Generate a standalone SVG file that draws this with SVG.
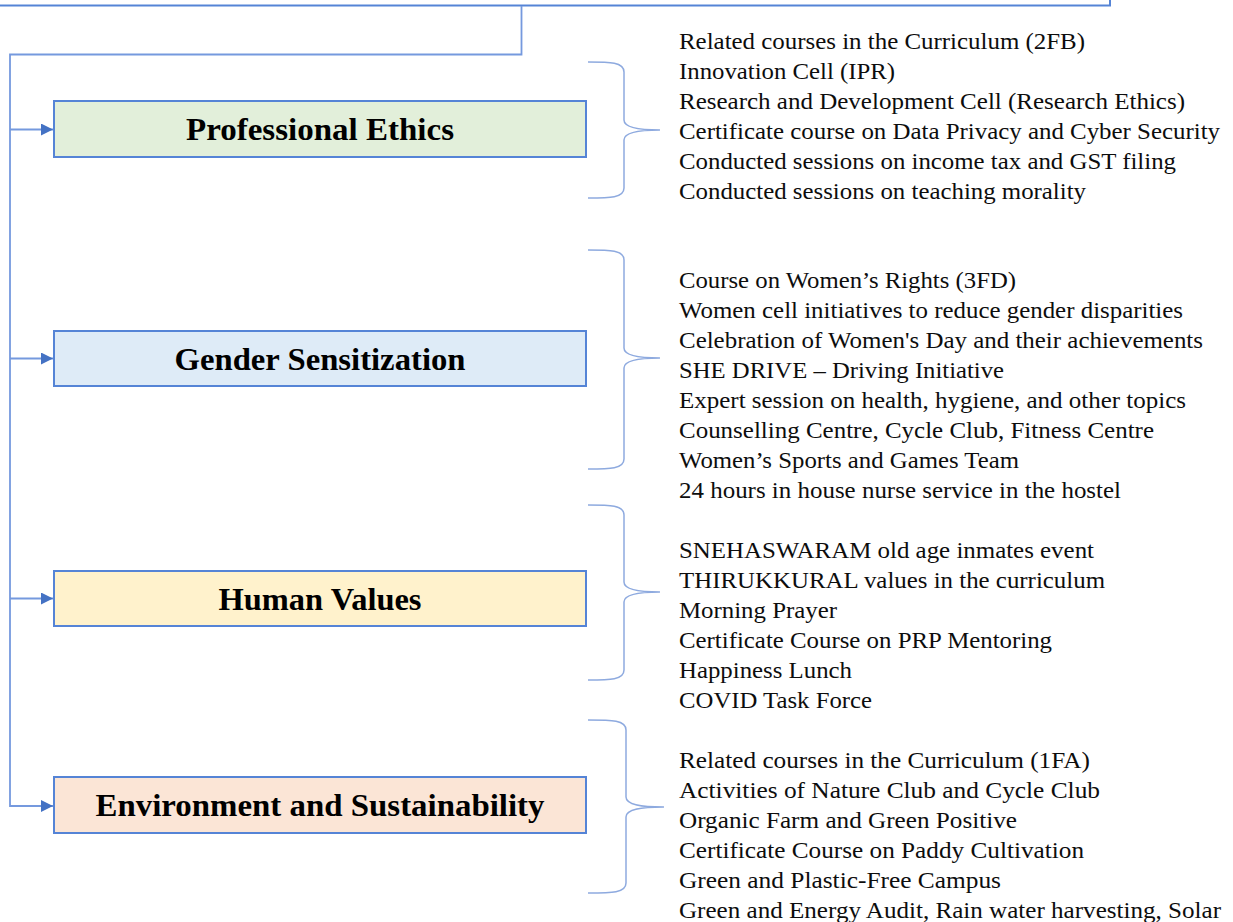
<svg xmlns="http://www.w3.org/2000/svg" width="1233" height="922" viewBox="0 0 1233 922">
<style>
.box{stroke:#5584d6;stroke-width:2}
.title{font-family:"Liberation Serif","Times New Roman",Times,serif;font-weight:bold;font-size:32px;fill:#000;text-anchor:middle}
.item{font-family:"Liberation Serif","Times New Roman",Times,serif;font-size:24px;fill:#0d0d0d}
.conn{fill:none;stroke:#7599de;stroke-width:1.8}
.brace{fill:none;stroke:#8eaadf;stroke-width:1.5}
</style>
<defs>
<marker id="arr" viewBox="0 0 10 10" refX="10" refY="5" markerWidth="12" markerHeight="12" markerUnits="userSpaceOnUse" orient="auto">
<path d="M0,0 L10,5 L0,10 z" fill="#4472c4"/>
</marker>
</defs>
<rect width="1233" height="922" fill="#fff"/>
<g id="top-node">
<rect x="-10" y="-20" width="1120" height="25.5" fill="#fff" class="box"/>
</g>
<g id="connectors">
<path class="conn" d="M521.5,6 V54.5 H10 V807"/>
<path class="conn" d="M10,129.5 H53" marker-end="url(#arr)"/>
<path class="conn" d="M10,358.5 H53" marker-end="url(#arr)"/>
<path class="conn" d="M10,598.5 H53" marker-end="url(#arr)"/>
<path class="conn" d="M10,806 H53" marker-end="url(#arr)"/>
</g>
<g id="professional-ethics">
<rect x="54" y="101" width="532" height="56" fill="#e2efda" class="box"/>
<text class="title" x="320" y="140" textLength="268" lengthAdjust="spacingAndGlyphs">Professional Ethics</text>
</g>
<g id="gender-sensitization">
<rect x="54" y="331" width="532" height="55" fill="#deebf7" class="box"/>
<text class="title" x="320" y="369.5" textLength="291" lengthAdjust="spacingAndGlyphs">Gender Sensitization</text>
</g>
<g id="human-values">
<rect x="54" y="571" width="532" height="55" fill="#fff2cc" class="box"/>
<text class="title" x="320" y="609.5" textLength="203" lengthAdjust="spacingAndGlyphs">Human Values</text>
</g>
<g id="environment-sustainability">
<rect x="54" y="777" width="532" height="56" fill="#fbe5d6" class="box"/>
<text class="title" x="320" y="816" textLength="449" lengthAdjust="spacingAndGlyphs">Environment and Sustainability</text>
</g>
<g id="braces">
<path class="brace" d="M588,62 C610,62 624,62 624,72 V120 C624,128 640,130 660,130 C640,130 624,132 624,140 V188 C624,198 610,198 588,198"/>
<path class="brace" d="M588,250 C610,250 624,250 624,260 V348 C624,356 640,358 660,358 C640,358 624,360 624,368 V459 C624,469 610,469 588,469"/>
<path class="brace" d="M588,505 C610,505 624,505 624,515 V582 C624,590 640,592 660,592 C640,592 624,594 624,602 V670 C624,680 610,680 588,680"/>
<path class="brace" d="M588,720 C612,720 626,720 626,730 V797 C626,805 642,807 664,807 C642,807 626,809 626,817 V883 C626,893 612,893 588,893"/>
</g>
<g id="list-professional-ethics">
<text class="item" x="679" y="49" textLength="406" lengthAdjust="spacingAndGlyphs">Related courses in the Curriculum (2FB)</text>
<text class="item" x="679" y="79" textLength="216" lengthAdjust="spacingAndGlyphs">Innovation Cell (IPR)</text>
<text class="item" x="679" y="109" textLength="506" lengthAdjust="spacingAndGlyphs">Research and Development Cell (Research Ethics)</text>
<text class="item" x="679" y="139" textLength="541" lengthAdjust="spacingAndGlyphs">Certificate  course on Data Privacy and Cyber Security</text>
<text class="item" x="679" y="169" textLength="497" lengthAdjust="spacingAndGlyphs">Conducted sessions on income tax and GST filing</text>
<text class="item" x="679" y="199" textLength="407" lengthAdjust="spacingAndGlyphs">Conducted sessions on teaching morality</text>
</g>
<g id="list-gender-sensitization">
<text class="item" x="679" y="288" textLength="337" lengthAdjust="spacingAndGlyphs">Course on Women’s Rights (3FD)</text>
<text class="item" x="679" y="318" textLength="504" lengthAdjust="spacingAndGlyphs">Women cell initiatives  to reduce gender disparities</text>
<text class="item" x="679" y="348" textLength="524" lengthAdjust="spacingAndGlyphs">Celebration of Women's Day and their achievements</text>
<text class="item" x="679" y="378" textLength="325" lengthAdjust="spacingAndGlyphs">SHE DRIVE – Driving Initiative</text>
<text class="item" x="679" y="408" textLength="507" lengthAdjust="spacingAndGlyphs">Expert session on health, hygiene, and other topics</text>
<text class="item" x="679" y="438" textLength="475" lengthAdjust="spacingAndGlyphs">Counselling Centre, Cycle Club, Fitness Centre</text>
<text class="item" x="679" y="468" textLength="340" lengthAdjust="spacingAndGlyphs">Women’s Sports and Games Team</text>
<text class="item" x="679" y="498" textLength="442" lengthAdjust="spacingAndGlyphs">24 hours in house nurse service in the hostel</text>
</g>
<g id="list-human-values">
<text class="item" x="679" y="558" textLength="415" lengthAdjust="spacingAndGlyphs">SNEHASWARAM old age inmates event</text>
<text class="item" x="679" y="588" textLength="426" lengthAdjust="spacingAndGlyphs">THIRUKKURAL  values in the curriculum</text>
<text class="item" x="679" y="618" textLength="158" lengthAdjust="spacingAndGlyphs">Morning Prayer</text>
<text class="item" x="679" y="648" textLength="373" lengthAdjust="spacingAndGlyphs">Certificate  Course on PRP Mentoring</text>
<text class="item" x="679" y="678" textLength="173" lengthAdjust="spacingAndGlyphs">Happiness Lunch</text>
<text class="item" x="679" y="708" textLength="193" lengthAdjust="spacingAndGlyphs">COVID Task Force</text>
</g>
<g id="list-environment-sustainability">
<text class="item" x="679" y="768" textLength="411" lengthAdjust="spacingAndGlyphs">Related courses in the Curriculum (1FA)</text>
<text class="item" x="679" y="798" textLength="421" lengthAdjust="spacingAndGlyphs">Activities  of Nature Club and Cycle Club</text>
<text class="item" x="679" y="828" textLength="338" lengthAdjust="spacingAndGlyphs">Organic Farm and Green Positive</text>
<text class="item" x="679" y="858" textLength="405" lengthAdjust="spacingAndGlyphs">Certificate  Course on Paddy Cultivation</text>
<text class="item" x="679" y="888" textLength="322" lengthAdjust="spacingAndGlyphs">Green and Plastic-Free  Campus</text>
<text class="item" x="679" y="918" textLength="542" lengthAdjust="spacingAndGlyphs">Green and Energy Audit, Rain water harvesting, Solar</text>
</g>
</svg>
